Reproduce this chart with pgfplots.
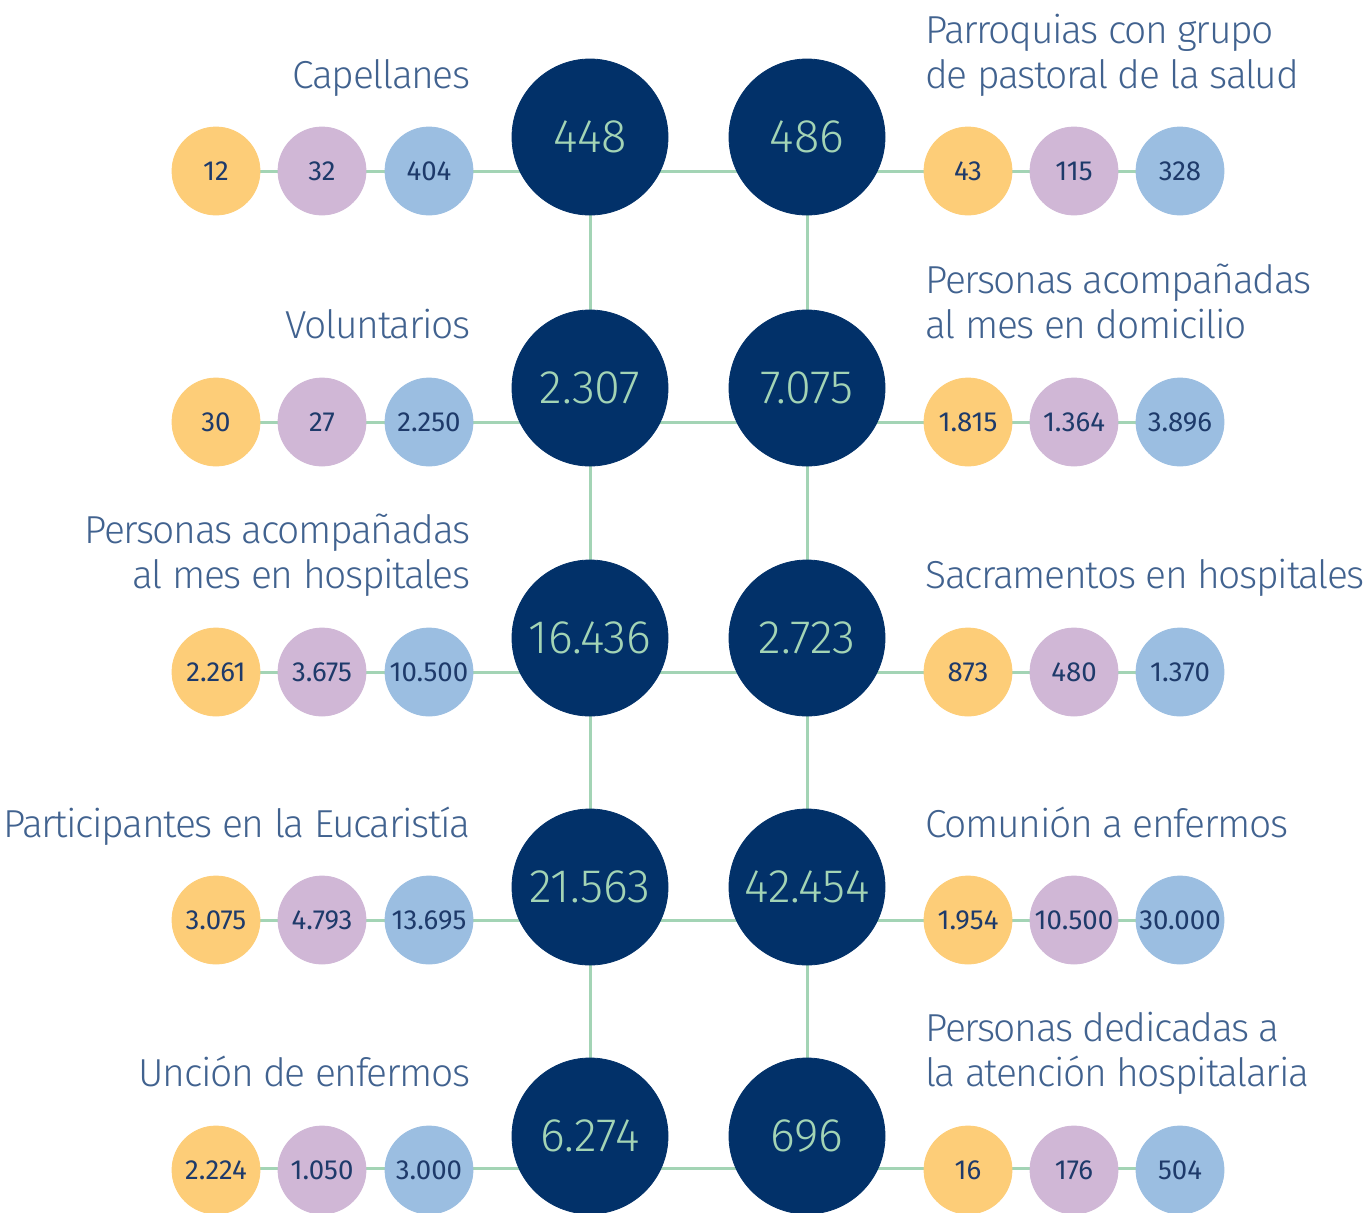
\documentclass[border=0pt]{standalone}
\usepackage{fontspec}
\setmainfont{Fira Sans Light}
\newfontfamily\titlefont{Fira Sans Light}[LetterSpace=-3.5]
\newfontfamily\numfont{Fira Sans}
\usepackage{pgfplots}
\pgfplotsset{compat=1.18}
\definecolor{navy}{HTML}{023169}
\definecolor{link}{HTML}{A3D4B5}
\definecolor{cyellow}{HTML}{FDCD78}
\definecolor{cpurple}{HTML}{D0B7D6}
\definecolor{cblue}{HTML}{9BBEE1}
\definecolor{titlec}{HTML}{41628F}
\definecolor{smallc}{HTML}{1E3A6A}

\pgfplotsset{
  small circ/.style={color=#1, only marks, mark=*, mark size=22pt, mark options={draw=#1, fill=#1},
    nodes near coords, point meta=explicit symbolic,
    nodes near coords style={anchor=center, text=smallc, font=\numfont\fontsize{13.8}{16}\selectfont}},
  title left/.style={draw=none, mark=none, nodes near coords, point meta=explicit symbolic,
    nodes near coords style={anchor=base east, inner sep=0pt, text=titlec, font=\titlefont\fontsize{19.5}{23}\selectfont}},
  title right/.style={draw=none, mark=none, nodes near coords, point meta=explicit symbolic,
    nodes near coords style={anchor=base west, inner sep=0pt, text=titlec, font=\titlefont\fontsize{19.5}{23}\selectfont}},
}

\begin{document}
\begin{tikzpicture}
\begin{axis}[
  width=683pt, height=606pt, scale only axis,
  xmin=0, xmax=1366, ymin=0, ymax=1212, y dir=reverse,
  hide axis, clip=false,
]
% connecting lines
\addplot[link, line width=1.5pt] coordinates {(216,171) (1180,171)};
\addplot[link, line width=1.5pt] coordinates {(216,422) (1180,422)};
\addplot[link, line width=1.5pt] coordinates {(216,672) (1180,672)};
\addplot[link, line width=1.5pt] coordinates {(216,920) (1180,920)};
\addplot[link, line width=1.5pt] coordinates {(216,1168) (1180,1168)};
\addplot[link, line width=1.5pt] coordinates {(590,137) (590,1136)};
\addplot[link, line width=1.5pt] coordinates {(807,137) (807,1136)};

% small circles
\addplot[small circ=cyellow] coordinates {
  (216,171)[12] (216,422)[30] (216,672)[2.261] (216,920)[3.075] (216,1170)[2.224]
  (968,171)[43] (968,422)[1.815] (968,672)[873] (968,920)[1.954] (968,1170)[16]};
\addplot[small circ=cpurple] coordinates {
  (322,171)[32] (322,422)[27] (322,672)[3.675] (322,920)[4.793] (322,1170)[1.050]
  (1074,171)[115] (1074,422)[1.364] (1074,672)[480] (1074,920)[10.500] (1074,1170)[176]};
\addplot[small circ=cblue] coordinates {
  (429,171)[404] (429,422)[2.250] (429,672)[10.500] (429,920)[13.695] (429,1170)[3.000]
  (1180,171)[328] (1180,422)[3.896] (1180,672)[1.370] (1180,920)[30.000] (1180,1170)[504]};

% totals
\addplot[color=navy, only marks, mark=*, mark size=39pt, mark options={draw=navy, fill=navy},
  nodes near coords, point meta=explicit symbolic,
  nodes near coords style={anchor=center, text=link, font=\fontsize{23.5}{28}\selectfont}]
  coordinates {
  (590,137)[448] (590,388)[2.307] (590,638)[16.436] (590,887)[21.563] (590,1136)[6.274]
  (807,137)[486] (807,388)[7.075] (807,638)[2.723] (807,887)[42.454] (807,1136)[696]};

% titles
\addplot[title left] coordinates {
  (471,88)[Capellanes]
  (471,338)[Voluntarios]
  (471,543)[Personas acompañadas]
  (471,588)[al mes en hospitales]
  (471,837)[Participantes en la Eucaristía]
  (471,1086)[Unción de enfermos]};
\addplot[title right] coordinates {
  (925,43)[Parroquias con grupo]
  (925,88)[de pastoral de la salud]
  (925,293)[Personas acompañadas]
  (925,338)[al mes en domicilio]
  (925,588)[Sacramentos en hospitales]
  (925,837)[Comunión a enfermos]
  (925,1041)[Personas dedicadas a]
  (925,1086)[la atención hospitalaria]};
\end{axis}
\pgfresetboundingbox
\path (current axis.south west) rectangle (current axis.north east);
\end{tikzpicture}
\end{document}
